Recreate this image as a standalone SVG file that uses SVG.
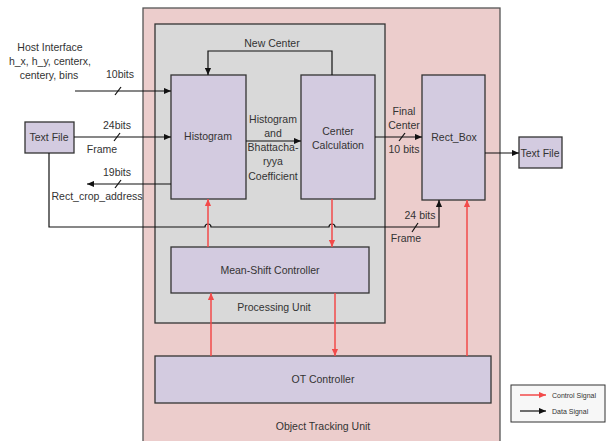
<svg xmlns="http://www.w3.org/2000/svg" width="606" height="441" viewBox="0 0 606 441">
<defs>
<style>
text{font-family:"Liberation Sans",Arial,sans-serif;font-size:10.5px;fill:#333;text-anchor:middle}
.box{fill:#D3CBE0;stroke:#333;stroke-width:1.3}
.data{fill:none;stroke:#111;stroke-width:1.2}
.ctrl{fill:none;stroke:#F24A4A;stroke-width:1.5}
.small{font-size:7px;text-anchor:start}
</style>
<marker id="ab" viewBox="0 0 8 8" refX="8" refY="4" markerWidth="7" markerHeight="7" markerUnits="userSpaceOnUse" orient="auto"><path d="M0,0.5 L8,4 L0,7.5 Z" fill="#111"/></marker>
<marker id="ar" viewBox="0 0 8 8" refX="8" refY="4" markerWidth="7" markerHeight="7" markerUnits="userSpaceOnUse" orient="auto"><path d="M0,0.5 L8,4 L0,7.5 Z" fill="#F24A4A"/></marker>
</defs>
<rect width="606" height="441" fill="#fff"/>
<g id="object-tracking-unit">
<rect x="143" y="8" width="357" height="440" fill="#ECCDCC" stroke="#555" stroke-width="1.3"/>
<text x="323" y="430">Object Tracking Unit</text>
</g>
<g id="processing-unit">
<rect x="155" y="24" width="230" height="299" fill="#D9D9D9" stroke="#333" stroke-width="1.3"/>
<text x="274" y="311">Processing Unit</text>
</g>
<g id="host-interface">
<text x="50" y="51">Host Interface</text>
<text x="50" y="65">h_x, h_y, centerx,</text>
<text x="49" y="79">centery, bins</text>
</g>
<g id="text-file-in">
<rect class="box" x="25" y="122" width="49" height="31"/>
<text x="49" y="141">Text File</text>
</g>
<g id="histogram">
<rect class="box" x="171" y="75" width="75" height="124"/>
<text x="208" y="140">Histogram</text>
</g>
<g id="center-calculation">
<rect class="box" x="301" y="75" width="74" height="124"/>
<text x="338" y="135">Center</text>
<text x="338" y="149">Calculation</text>
</g>
<g id="rect-box">
<rect class="box" x="422" y="75" width="63" height="125"/>
<text x="454" y="141">Rect_Box</text>
</g>
<g id="text-file-out">
<rect class="box" x="519" y="137" width="43" height="31"/>
<text x="540" y="157">Text File</text>
</g>
<g id="mean-shift-controller">
<rect class="box" x="171" y="247" width="198" height="46"/>
<text x="270" y="274">Mean-Shift Controller</text>
</g>
<g id="ot-controller">
<rect class="box" x="155" y="356" width="336" height="47"/>
<text x="323" y="383">OT Controller</text>
</g>
<g id="legend">
<rect x="511" y="385" width="94" height="37" fill="#F7F7F7" stroke="#333" stroke-width="1"/>
<line class="ctrl" x1="520" y1="395" x2="546" y2="395" stroke-width="1.2" marker-end="url(#ar)"/>
<text class="small" x="552" y="398">Control Signal</text>
<line class="data" x1="520" y1="411" x2="546" y2="411" stroke-width="1" marker-end="url(#ab)"/>
<text class="small" x="552" y="414">Data Signal</text>
</g>
<g id="connectors">
<!-- host interface -->
<line class="data" x1="75" y1="91" x2="171" y2="91" marker-end="url(#ab)"/>
<line class="data" x1="115" y1="95" x2="121" y2="87"/>
<text x="120" y="78">10bits</text>
<!-- text file -> histogram -->
<line class="data" x1="74" y1="137" x2="171" y2="137" marker-end="url(#ab)"/>
<line class="data" x1="114" y1="141" x2="120" y2="133"/>
<text x="117" y="129">24bits</text>
<text x="102" y="153">Frame</text>
<!-- histogram -> rect_crop_address -->
<line class="data" x1="171" y1="184" x2="87" y2="184" marker-end="url(#ab)"/>
<line class="data" x1="115" y1="188" x2="121" y2="180"/>
<text x="117" y="176">19bits</text>
<text x="97" y="200">Rect_crop_address</text>
<!-- new center loop -->
<path class="data" d="M332,75 V51 H208 V75" marker-end="url(#ab)"/>
<text x="272" y="47">New Center</text>
<!-- histogram -> center calc -->
<line class="data" x1="246" y1="141" x2="301" y2="141" marker-end="url(#ab)"/>
<text x="273" y="123">Histogram</text>
<text x="273" y="137">and</text>
<text x="273" y="151">Bhattacha-</text>
<text x="273" y="165">ryya</text>
<text x="273" y="180">Coefficient</text>
<!-- center calc -> rect box -->
<line class="data" x1="375" y1="137" x2="422" y2="137" marker-end="url(#ab)"/>
<line class="data" x1="399" y1="141" x2="405" y2="133"/>
<text x="404" y="115">Final</text>
<text x="404" y="129">Center</text>
<text x="404" y="153">10 bits</text>
<!-- rect box -> text file -->
<line class="data" x1="485" y1="153" x2="519" y2="153" marker-end="url(#ab)"/>
<!-- frame to rect box -->
<path class="data" d="M49,153 V227 H205 A3,3 0 0 1 211,227 H329 A3,3 0 0 1 335,227 H439 V200" marker-end="url(#ab)"/>
<line class="data" x1="412" y1="232" x2="418" y2="223"/>
<text x="420" y="219">24 bits</text>
<text x="406" y="242">Frame</text>
<!-- control signals -->
<line class="ctrl" x1="208" y1="247" x2="208" y2="199" marker-end="url(#ar)"/>
<line class="ctrl" x1="332" y1="199" x2="332" y2="247" marker-end="url(#ar)"/>
<line class="ctrl" x1="211" y1="356" x2="211" y2="293" marker-end="url(#ar)"/>
<line class="ctrl" x1="335" y1="293" x2="335" y2="356" marker-end="url(#ar)"/>
<line class="ctrl" x1="467" y1="356" x2="467" y2="200" marker-end="url(#ar)"/>
</g>
</svg>
